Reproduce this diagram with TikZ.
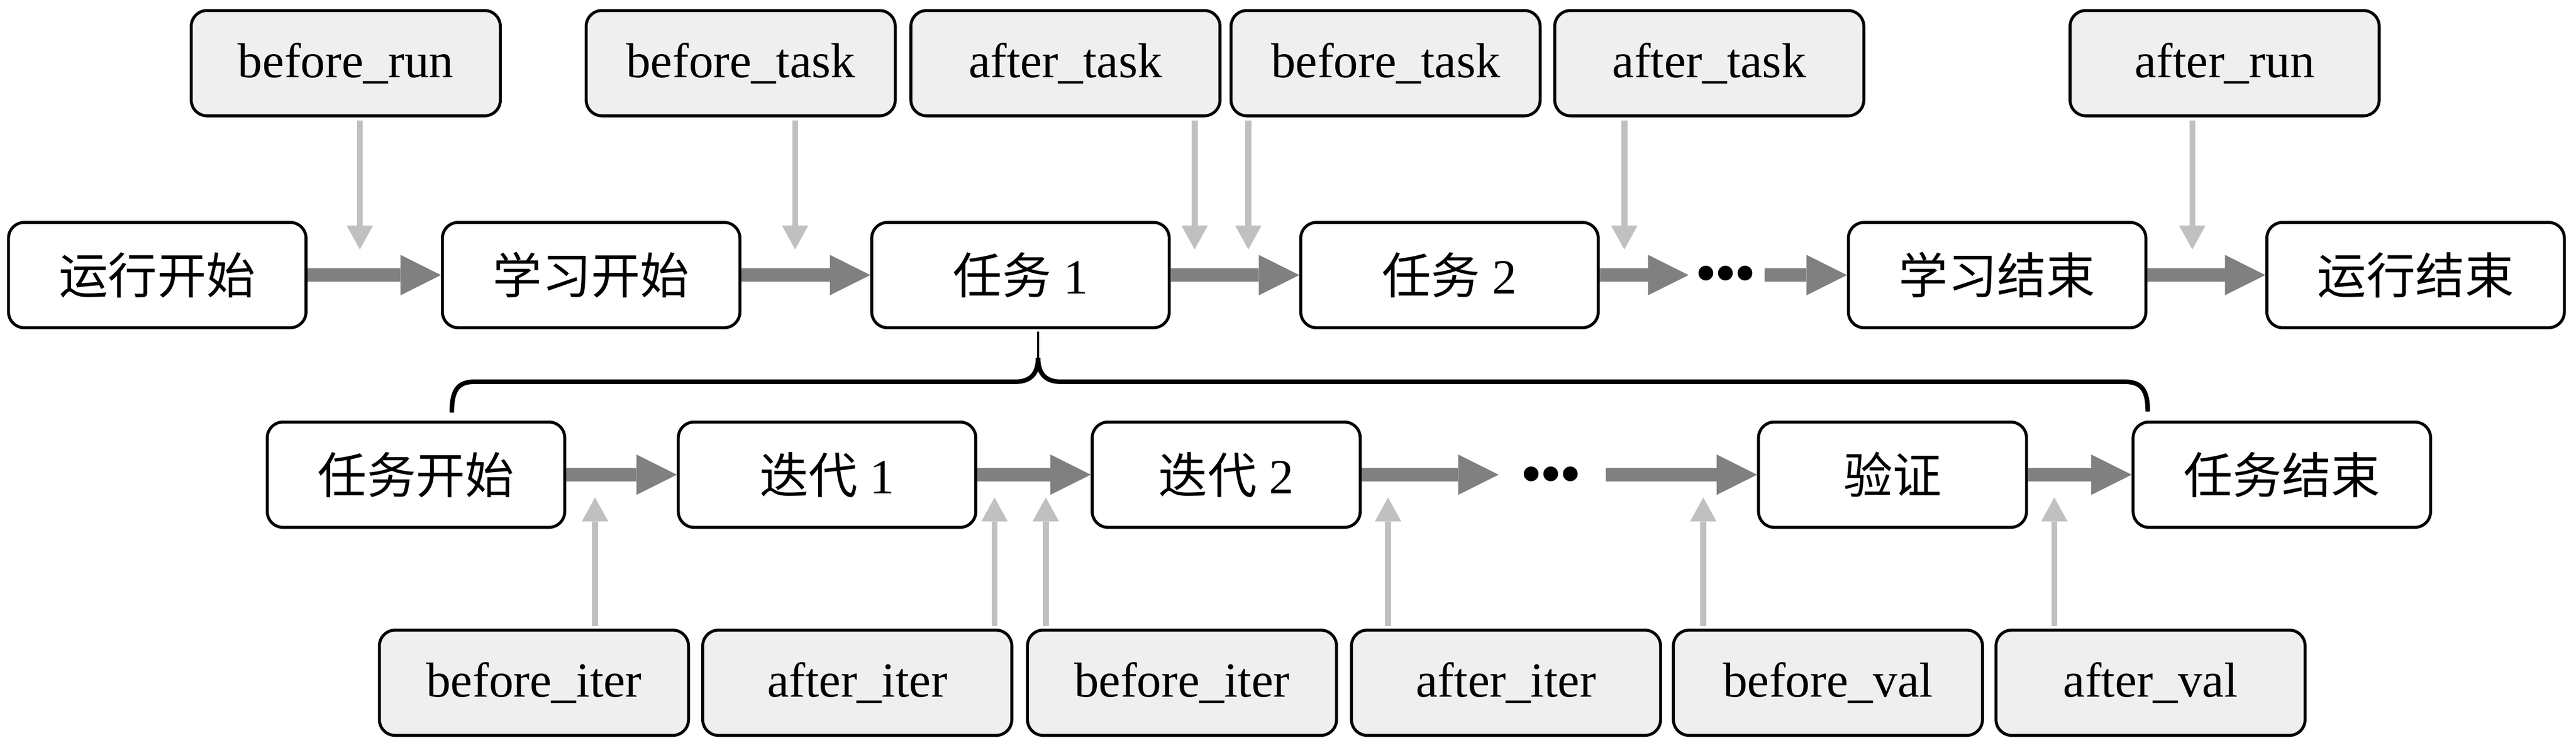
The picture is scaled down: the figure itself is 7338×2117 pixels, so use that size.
\documentclass[tikz,border=0pt]{standalone}
\usepackage{fontspec}
\setmainfont{Liberation Serif}
\newfontfamily\cjk{Noto Sans CJK SC}
\usetikzlibrary{arrows.meta}
\definecolor{hookfill}{RGB}{239,239,239}
\definecolor{bigarrowc}{RGB}{128,128,128}
\definecolor{thinarrowc}{RGB}{192,192,192}
\newcommand{\threedots}{•\kern-0.034em•\kern-0.034em•}
\begin{document}
\begin{tikzpicture}[x=0.01cm, y=-0.01cm,
  box/.style={draw=black, line width=2.4pt, rounded corners=0.45cm, minimum height=3.0cm,
    inner sep=0pt, font=\fontsize{39.8pt}{48pt}\selectfont, fill=white},
  mainbox/.style={box, minimum width=8.47cm},
  narrowbox/.style={box, minimum width=7.63cm},
  hookbox/.style={box, fill=hookfill, minimum width=8.8cm},
  bigarrow/.style={draw=bigarrowc, line width=0.38cm,
    -{Triangle[length=1.15cm, width=1.15cm, line width=0pt]}},
  hookarrow/.style={draw=thinarrowc, line width=0.17cm,
    -{Triangle[length=0.68cm, width=0.75cm, line width=0pt]}},
  brace/.style={draw=black, line width=0.13cm},
  dotsnode/.style={inner sep=0pt, font=\fontsize{50pt}{60pt}\selectfont, anchor=base}
]
\useasboundingbox (0,0) rectangle (7338,2117);

% top hooks
\node[hookbox] (h1) at (985,180) {before\_run};
\node[hookbox] (h2) at (2110,180) {before\_task};
\node[hookbox] (h3) at (3035,180) {after\_task};
\node[hookbox] (h4) at (3947,180) {before\_task};
\node[hookbox] (h5) at (4869,180) {after\_task};
\node[hookbox] (h6) at (6337,180) {after\_run};

% main row
\node[mainbox] (m1) at (448,784) {\cjk 运行开始};
\node[mainbox] (m2) at (1684,784) {\cjk 学习开始};
\node[mainbox] (m3) at (2907,784) {{\cjk 任务} 1};
\node[mainbox] (m4) at (4129,784) {{\cjk 任务} 2};
\node[dotsnode] (d1) at (4915,837) {\threedots};
\node[mainbox] (m5) at (5689,784) {\cjk 学习结束};
\node[mainbox] (m6) at (6881,784) {\cjk 运行结束};

\draw[bigarrow] (m1.east) -- (m2.west);
\draw[bigarrow] (m2.east) -- (m3.west);
\draw[bigarrow] (m3.east) -- (m4.west);
\draw[bigarrow] (m4.east) -- ([xshift=-0.18cm]d1.west |- m4.east);
\draw[bigarrow] ([xshift=0.25cm]d1.east |- m5.west) -- (m5.west);
\draw[bigarrow] (m5.east) -- (m6.west);

% second row
\node[mainbox] (s1) at (1185,1353) {\cjk 任务开始};
\node[mainbox] (s2) at (2356,1353) {{\cjk 迭代} 1};
\node[narrowbox] (s3) at (3493,1353) {{\cjk 迭代} 2};
\node[dotsnode] (d2) at (4418,1410) {\threedots};
\node[narrowbox] (s4) at (5391,1353) {\cjk 验证};
\node[mainbox] (s5) at (6500,1353) {\cjk 任务结束};

\draw[bigarrow] (s1.east) -- (s2.west);
\draw[bigarrow] (s2.east) -- (s3.west);
\draw[bigarrow] (s3.east) -- ([xshift=-0.62cm]d2.west |- s3.east);
\draw[bigarrow] ([xshift=0.70cm]d2.east |- s4.west) -- (s4.west);
\draw[bigarrow] (s4.east) -- (s5.west);

% bottom hooks
\node[hookbox] (b1) at (1521,1946) {before\_iter};
\node[hookbox] (b2) at (2442,1946) {after\_iter};
\node[hookbox] (b3) at (3367,1946) {before\_iter};
\node[hookbox] (b4) at (4290,1946) {after\_iter};
\node[hookbox] (b5) at (5207,1946) {before\_val};
\node[hookbox] (b6) at (6126,1946) {after\_val};

% hook arrow tips
\coordinate (t1) at (1025,711);
\coordinate (t2) at (2265,711);
\coordinate (t3) at (3403,711);
\coordinate (t4) at (3556,711);
\coordinate (t5) at (4627,711);
\coordinate (t6) at (6245,711);
\coordinate (u1) at (1695,1418);
\coordinate (u2) at (2833,1418);
\coordinate (u3) at (2979,1418);
\coordinate (u4) at (3954,1418);
\coordinate (u5) at (4852,1418);
\coordinate (u6) at (5852,1418);

\draw[hookarrow] ([yshift=-0.09cm]h1.south -| t1) -- (t1);
\draw[hookarrow] ([yshift=-0.09cm]h2.south -| t2) -- (t2);
\draw[hookarrow] ([yshift=-0.09cm]h3.south -| t3) -- (t3);
\draw[hookarrow] ([yshift=-0.09cm]h4.south -| t4) -- (t4);
\draw[hookarrow] ([yshift=-0.09cm]h5.south -| t5) -- (t5);
\draw[hookarrow] ([yshift=-0.09cm]h6.south -| t6) -- (t6);

\draw[hookarrow] ([yshift=0.07cm]b1.north -| u1) -- (u1);
\draw[hookarrow] ([yshift=0.07cm]b2.north -| u2) -- (u2);
\draw[hookarrow] ([yshift=0.07cm]b3.north -| u3) -- (u3);
\draw[hookarrow] ([yshift=0.07cm]b4.north -| u4) -- (u4);
\draw[hookarrow] ([yshift=0.07cm]b5.north -| u5) -- (u5);
\draw[hookarrow] ([yshift=0.07cm]b6.north -| u6) -- (u6);

% brace
\coordinate (bl) at (1287,1176);
\coordinate (bt) at (2957,945);
\coordinate (br) at (6118,1173);
\draw[brace] (bl) .. controls (1287,1110) and (1305,1088) .. (1353,1088) -- (2893,1088)
  .. controls (2940,1088) and (2957,1060) .. (2957,1020);
\draw[brace] (2957,1020) .. controls (2957,1060) and (2974,1088) .. (3021,1088) -- (6050,1088)
  .. controls (6100,1088) and (6118,1110) .. (br);
\draw[black, line width=0.06cm] (bt) -- (2957,1030);
\end{tikzpicture}
\end{document}
